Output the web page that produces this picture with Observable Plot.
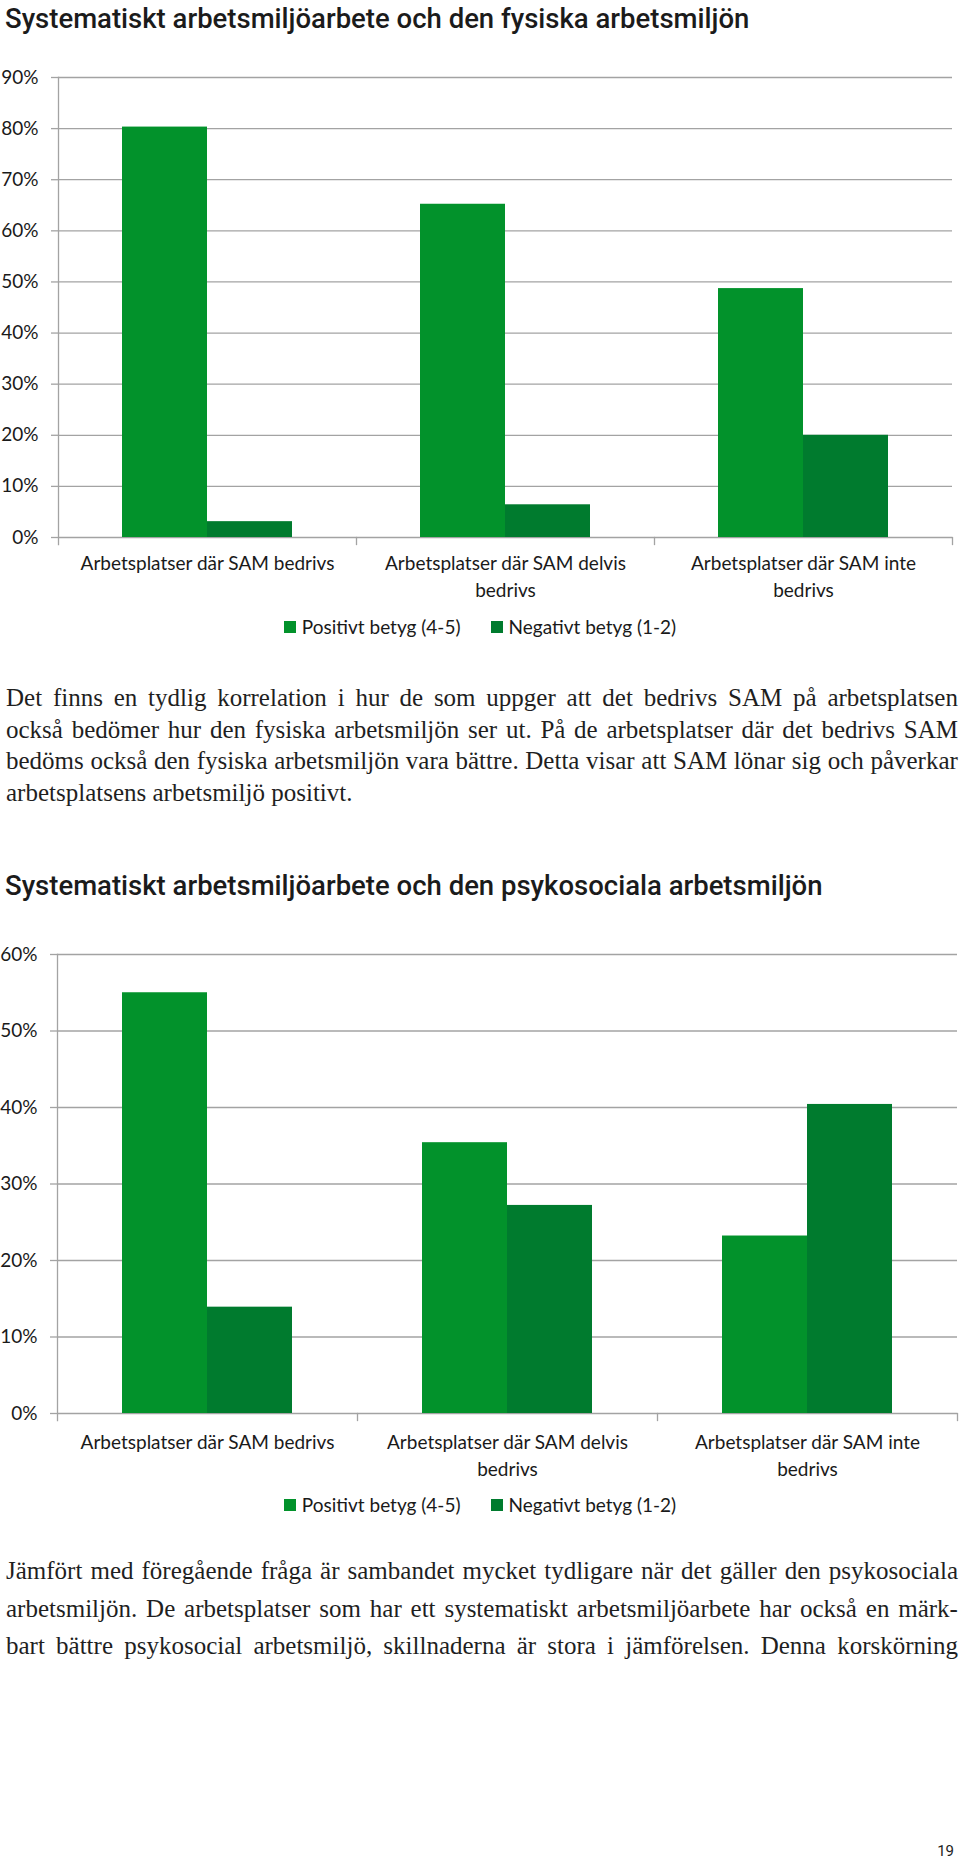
<!DOCTYPE html>
<html><head><meta charset="utf-8">
<script src="https://cdn.jsdelivr.net/npm/d3@7"></script>
<script src="https://cdn.jsdelivr.net/npm/@observablehq/plot@0.6"></script>
<style>
body{margin:0;background:#fff;width:960px;height:1865px;position:relative;overflow:hidden;}
.title{position:absolute;left:5px;font-family:Roboto;font-weight:500;font-size:27.5px;color:#1b1b1b;white-space:nowrap;line-height:32px;letter-spacing:0px;}
.chart{position:absolute;left:0;}
.legend{position:absolute;left:0;width:960px;display:flex;justify-content:center;font-family:Lato;font-size:19px;line-height:24px;color:#1a1a1a;}
.legend .it{display:flex;align-items:center;margin:0 15px;}
.legend .sw{width:12px;height:12px;margin-right:6px;}
.para{position:absolute;left:6px;width:952px;font-family:"Liberation Serif";font-size:25px;color:#1f1f1f;}
.para .ln{display:flex;justify-content:space-between;white-space:nowrap;}
.para .ln.last{justify-content:flex-start;gap:0.25em;}
.pnum{position:absolute;right:6px;top:1842px;font-family:Roboto;font-size:15px;color:#222;}
</style></head>
<body>
<script>
// ---- data ----
const categories = ["Arbetsplatser där SAM bedrivs", "Arbetsplatser där SAM delvis bedrivs", "Arbetsplatser där SAM inte bedrivs"];
const series = ["Positivt betyg (4-5)", "Negativt betyg (1-2)"];
const seriesColors = ["#02922b", "#007b2e"];
const fysiskPositiv = [0.803, 0.652, 0.487];
const fysiskNegativ = [0.031, 0.064, 0.200];
const psykoPositiv = [0.550, 0.354, 0.232];
const psykoNegativ = [0.139, 0.272, 0.404];
const fysiskTicks = [0, 0.1, 0.2, 0.3, 0.4, 0.5, 0.6, 0.7, 0.8, 0.9];
const psykoTicks = [0, 0.1, 0.2, 0.3, 0.4, 0.5, 0.6];
const title1 = "Systematiskt arbetsmiljöarbete och den fysiska arbetsmiljön";
const title2 = "Systematiskt arbetsmiljöarbete och den psykosociala arbetsmiljön";
const para1 = [
  "Det finns en tydlig korrelation i hur de som uppger att det bedrivs SAM på arbetsplatsen",
  "också bedömer hur den fysiska arbetsmiljön ser ut. På de arbetsplatser där det bedrivs SAM",
  "bedöms också den fysiska arbetsmiljön vara bättre. Detta visar att SAM lönar sig och påverkar",
  "arbetsplatsens arbetsmiljö positivt."
];
const para2 = [
  "Jämfört med föregående fråga är sambandet mycket tydligare när det gäller den psykosociala",
  "arbetsmiljön. De arbetsplatser som har ett systematiskt arbetsmiljöarbete har också en märk-",
  "bart bättre psykosocial arbetsmiljö, skillnaderna är stora i jämförelsen. Denna korskörning"
];
const pageNumber = "19";

const gridColor = "#a3a3a3";
const textColor = "#1a1a1a";

function addDiv(cls, top, html) {
  const d = document.createElement("div");
  d.className = cls; d.style.top = top + "px";
  if (html != null) d.textContent = html;
  document.body.appendChild(d);
  return d;
}

function makeChart({pos, neg, ticks, height, marginRight, labelPad}) {
  const data = categories.flatMap((c, i) => [
    {cat: c, series: series[0], value: pos[i]},
    {cat: c, series: series[1], value: neg[i]}
  ]);
  const mt = 17, mb = 80;
  const plotH = height - mt - mb;
  const build = (superOK) => Plot.plot({
    width: 960, height, marginTop: mt, marginBottom: mb, marginLeft: 57, marginRight,
    style: {fontFamily: "Lato", fontSize: "19px", color: textColor, background: "transparent"},
    fx: {domain: categories, padding: 0, label: null},
    x: {domain: series, paddingInner: 0, paddingOuter: 0.75, axis: null},
    y: {domain: [0, ticks[ticks.length - 1]], axis: null, label: null},
    color: {domain: series, range: seriesColors},
    marks: [
      Plot.gridY(ticks, {stroke: gridColor, strokeOpacity: 1, strokeWidth: 1.3}),
      Plot.barY(data, {fx: "cat", x: "series", y: "value", fill: "series"}),
      Plot.axisY(ticks, {label: null, tickFormat: d3.format(".0%"), tickSize: 7, tickPadding: 13, stroke: gridColor, strokeWidth: 1.3, fill: textColor, fontSize: 19}),
      Plot.axisFx({anchor: "bottom", label: null, tickSize: 0, tickPadding: labelPad, lineWidth: 15, lineHeight: 1.4, fill: textColor, fontSize: 19}),
      Plot.frame({anchor: "right", insetTop: plotH, insetBottom: -7, stroke: gridColor, strokeWidth: 1.3}),
      superOK
        ? Plot.frame({anchor: "left", insetBottom: -7, stroke: gridColor, strokeWidth: 1.3, facet: "super"})
        : Plot.frame({anchor: "left", insetBottom: -7, stroke: gridColor, strokeWidth: 1.3})
    ]
  });
  let svg;
  try { svg = build(true); } catch (e) { console.error(e); svg = build(false); }
  return svg;
}

function addLegend(top) {
  const lg = addDiv("legend", top);
  series.forEach((s, i) => {
    const it = document.createElement("span"); it.className = "it";
    const sw = document.createElement("span"); sw.className = "sw"; sw.style.background = seriesColors[i];
    it.appendChild(sw); it.appendChild(document.createTextNode(s));
    lg.appendChild(it);
  });
}

function addPara(lines, top, lh, lastLeft) {
  const p = addDiv("para", top);
  p.style.lineHeight = lh + "px";
  lines.forEach((l, i) => {
    const ln = document.createElement("div");
    ln.className = "ln" + (lastLeft && i === lines.length - 1 ? " last" : "");
    l.split(" ").forEach(w => { const s = document.createElement("span"); s.textContent = w; ln.appendChild(s); });
    p.appendChild(ln);
  });
}

addDiv("title", 3, title1);
const c1 = addDiv("chart", 60);
c1.appendChild(makeChart({pos: fysiskPositiv, neg: fysiskNegativ, ticks: fysiskTicks, height: 557, marginRight: 7, labelPad: 14}));
addLegend(615);
addPara(para1, 682, 31.7, true);

addDiv("title", 870, title2);
const c2 = addDiv("chart", 937);
c2.appendChild(makeChart({pos: psykoPositiv, neg: psykoNegativ, ticks: psykoTicks, height: 556, marginRight: 3, labelPad: 17}));
addLegend(1493);
addPara(para2, 1552, 37.5, false);

addDiv("pnum", 1842, pageNumber);
</script>
</body></html>
